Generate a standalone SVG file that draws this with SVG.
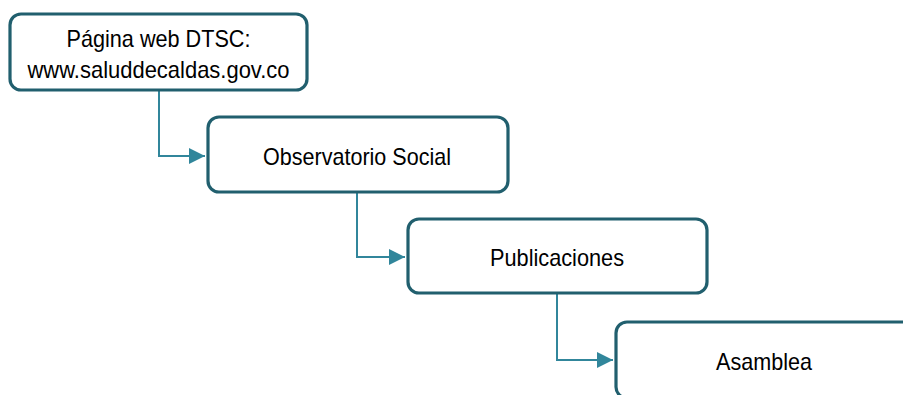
<svg xmlns="http://www.w3.org/2000/svg" width="903" height="395" viewBox="0 0 903 395">
<style>
.box{fill:#fff;stroke:#215F6E;stroke-width:3.2}
.lbl{font-family:"Liberation Sans",Arial,sans-serif;font-size:24px;fill:#000;text-anchor:middle}
.con{fill:none;stroke:#31869B;stroke-width:2}
</style>
<defs>
<marker id="ah" viewBox="0 0 10 10" refX="10" refY="5" markerWidth="7.5" markerHeight="7.5" markerUnits="userSpaceOnUse" orient="auto">
<path d="M0,0 L10,5 L0,10 z" fill="#31869B"/>
</marker>
<marker id="ah2" viewBox="0 0 10 10" refX="10" refY="5" markerWidth="8" markerHeight="8" orient="auto">
<path d="M0,0 L10,5 L0,10 z" fill="#31869B"/>
</marker>
</defs>
<g id="connectors">
<path class="con" d="M159,90 V156 H205" marker-end="url(#ah2)"/>
<path class="con" d="M357,192 V257 H405" marker-end="url(#ah2)"/>
<path class="con" d="M557,293 V360 H613" marker-end="url(#ah2)"/>
</g>
<g id="node1">
<rect class="box" x="10" y="14" width="297" height="76" rx="11"/>
<text class="lbl" x="158.5" y="46.5" textLength="184" lengthAdjust="spacingAndGlyphs">Página web DTSC:</text>
<text class="lbl" x="158.5" y="78" textLength="262" lengthAdjust="spacingAndGlyphs">www.saluddecaldas.gov.co</text>
</g>
<g id="node2">
<rect class="box" x="208" y="117" width="300" height="75" rx="11"/>
<text class="lbl" x="357" y="165" textLength="188" lengthAdjust="spacingAndGlyphs">Observatorio Social</text>
</g>
<g id="node3">
<rect class="box" x="408" y="219" width="299" height="74" rx="11"/>
<text class="lbl" x="557" y="266" textLength="134" lengthAdjust="spacingAndGlyphs">Publicaciones</text>
</g>
<g id="node4">
<rect class="box" x="616" y="322" width="300" height="76" rx="11"/>
<text class="lbl" x="764" y="370" textLength="96" lengthAdjust="spacingAndGlyphs">Asamblea</text>
</g>
</svg>
